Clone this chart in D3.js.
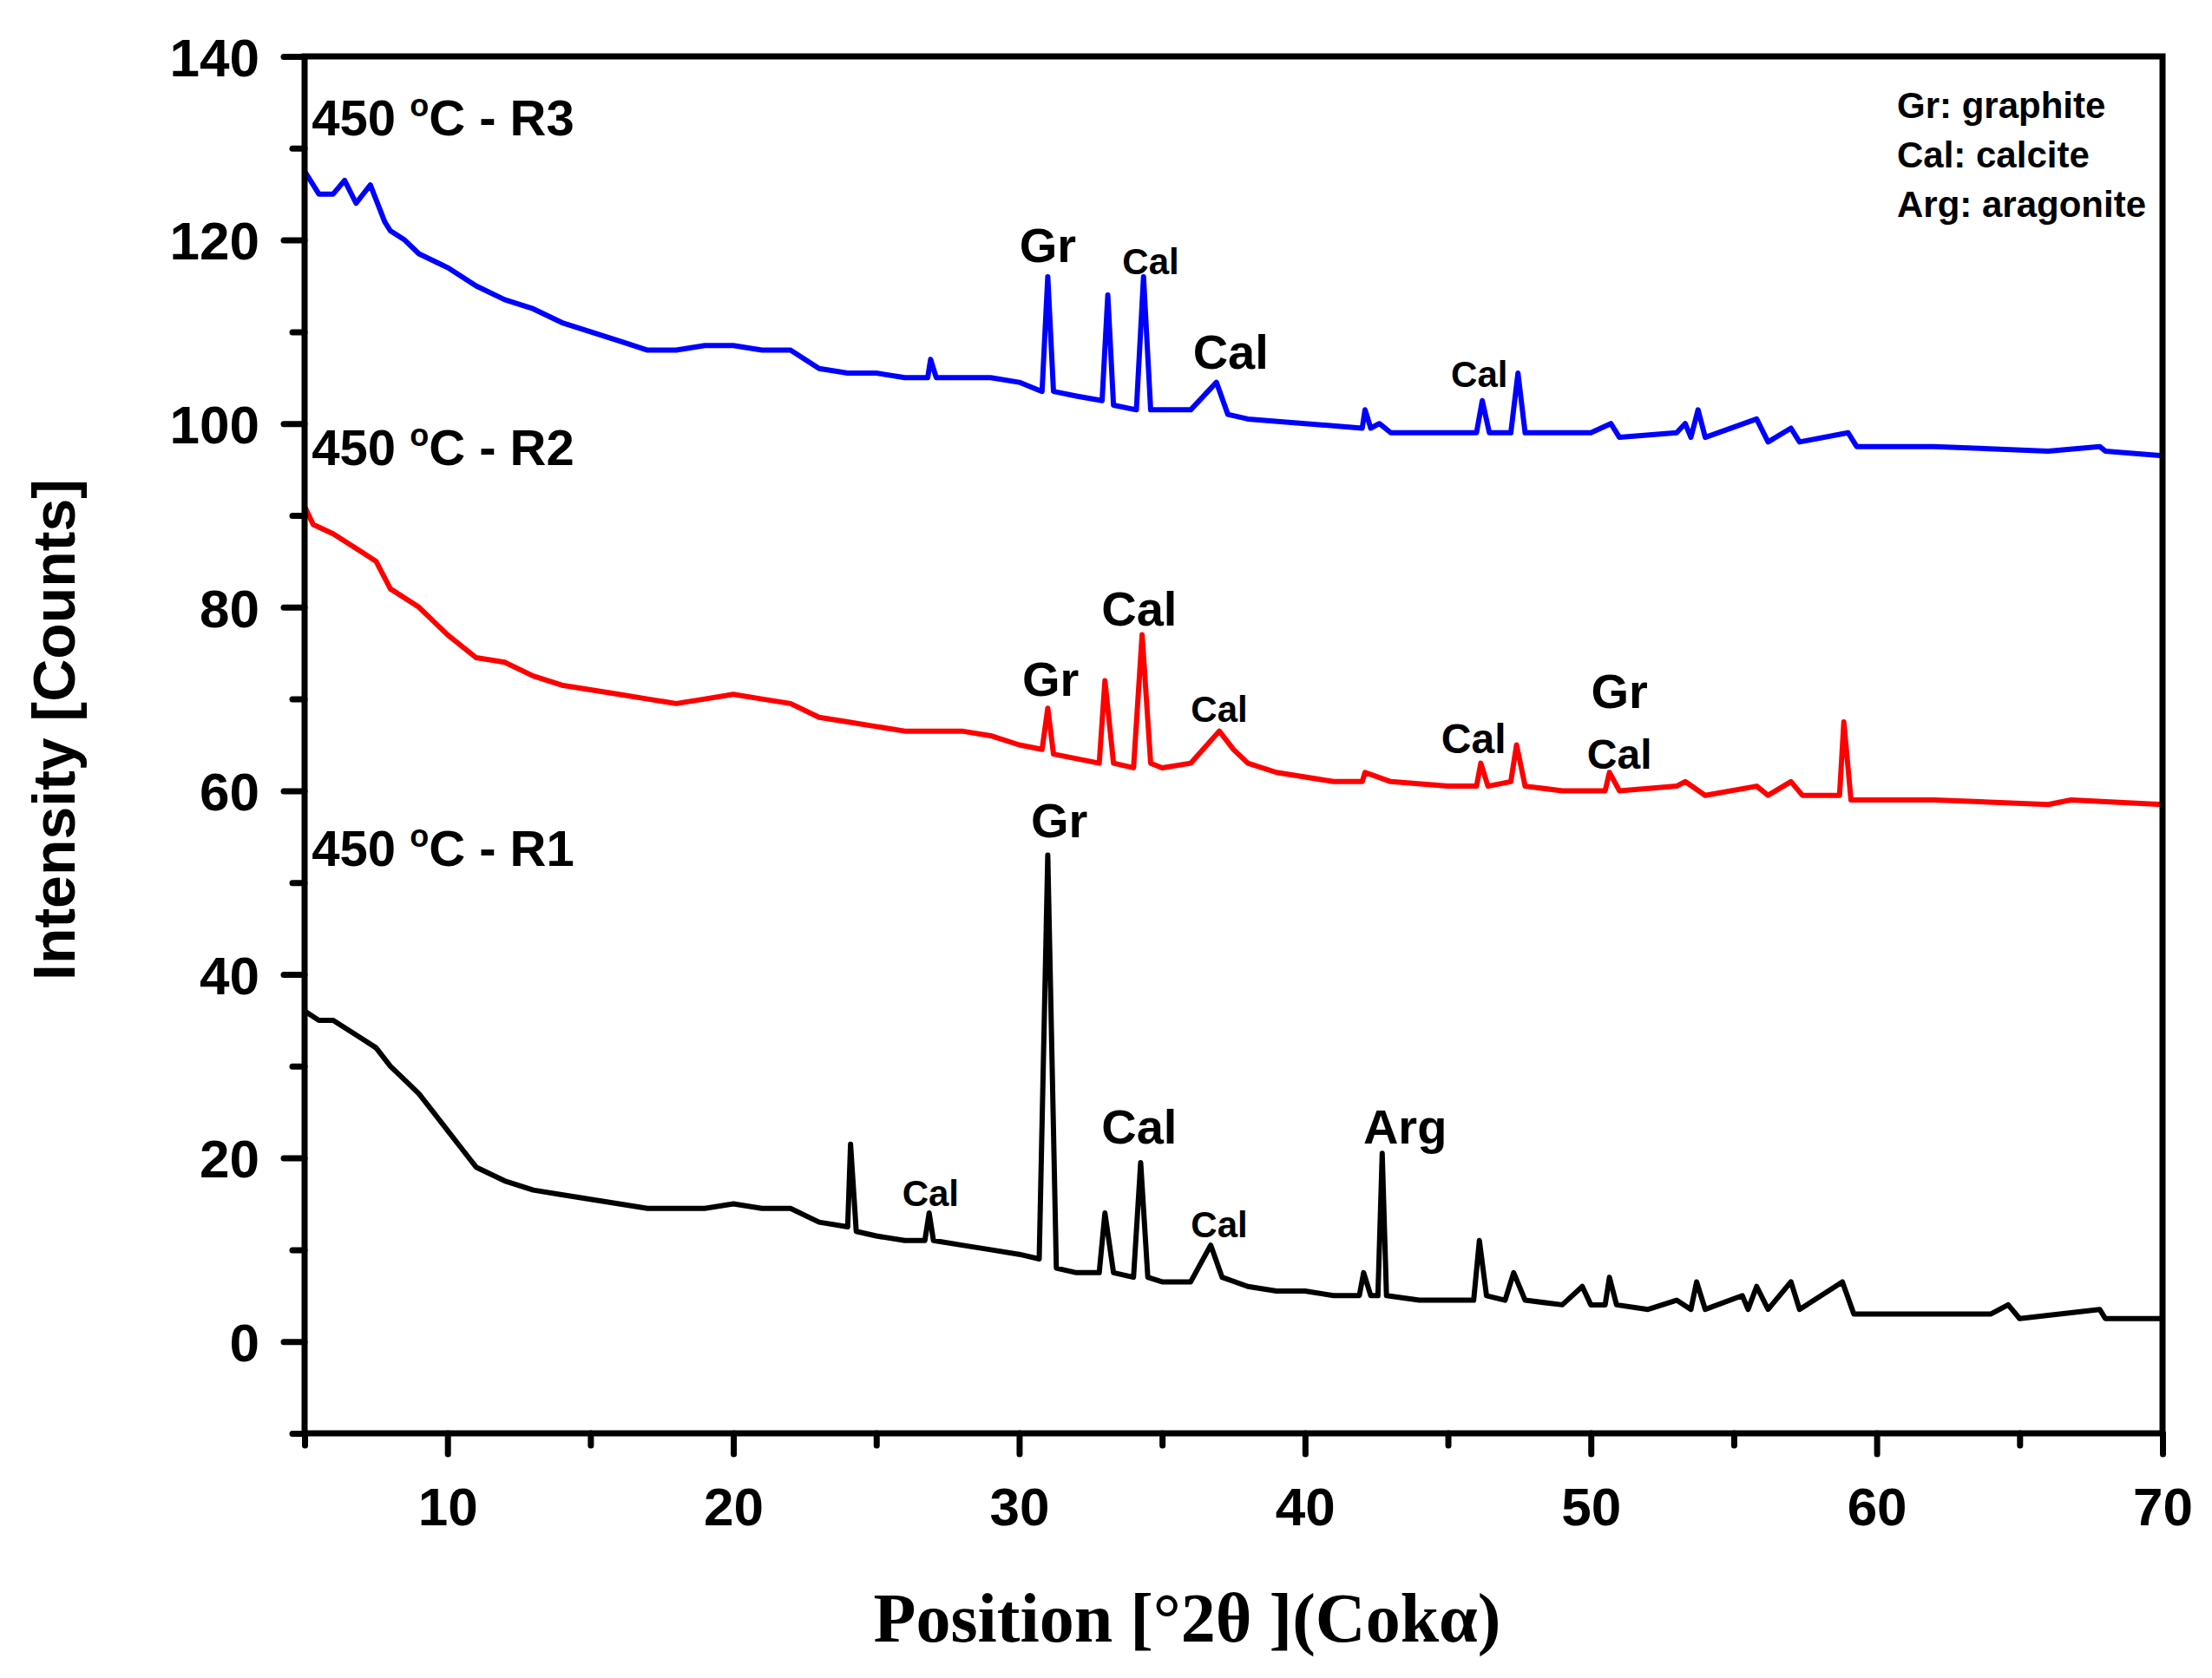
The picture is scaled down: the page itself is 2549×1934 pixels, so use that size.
<!DOCTYPE html>
<html><head><meta charset="utf-8">
<script src="https://cdn.jsdelivr.net/npm/d3@7"></script>
<style>body{margin:0;background:#fff}</style></head>
<body><svg id="c" width="2549" height="1934"></svg>
<script>
const r1 = [[5,36],[5.5,35],[6,35],[6.5,34],[7,33],[7.5,32],[8,30],[8.5,28.5],[9,27],[9.5,25],[10,23],[10.5,21],[11,19],[12,17.5],[13,16.5],[14,16],[15,15.5],[16,15],[17,14.5],[18,14.5],[19,14.5],[20,15],[21,14.5],[22,14.5],[23,13],[24,12.5],[24.1,21.5],[24.3,12],[25,11.5],[26,11],[26.7,11],[26.85,14],[27,11],[28,10.5],[29,10],[30,9.5],[30.7,9],[31.0,53],[31.3,8],[32,7.5],[32.8,7.5],[33,14],[33.3,7.5],[34,7],[34.25,19.5],[34.5,7],[35,6.5],[36,6.5],[36.7,10.5],[37.1,7],[38,6],[39,5.5],[40,5.5],[41,5],[41.9,5],[42.05,7.5],[42.3,5],[42.55,5],[42.7,20.5],[42.85,5],[44,4.5],[45,4.5],[45.9,4.5],[46.1,11],[46.35,5],[47,4.5],[47.3,7.5],[47.7,4.5],[49,4],[49.7,6],[50,4],[50.5,4],[50.65,7],[50.9,4],[52,3.5],[53,4.5],[53.5,3.5],[53.7,6.5],[54,3.5],[55.3,5],[55.5,3.5],[55.8,6],[56.2,3.5],[57,6.5],[57.3,3.5],[58.8,6.5],[59.2,3],[61,3],[64,3],[64.6,4],[65,2.5],[67.8,3.5],[68,2.5],[70,2.5]];
const r2 = [[5,91],[5.3,89],[6,88],[6.5,87],[7,86],[7.5,85],[8,82],[9,80],[10,77],[11,74.5],[12,74],[13,72.5],[14,71.5],[15,71],[16,70.5],[17,70],[18,69.5],[19,70],[20,70.5],[21,70],[22,69.5],[23,68],[24,67.5],[25,67],[26,66.5],[27,66.5],[28,66.5],[29,66],[30,65],[30.8,64.5],[31,69],[31.2,64],[32,63.5],[32.8,63],[33,72],[33.3,63],[34,62.5],[34.3,77],[34.6,63],[35,62.5],[36,63],[37,66.5],[37.5,64.5],[38,63],[39,62],[40,61.5],[41,61],[42,61],[42.1,62],[43,61],[45,60.5],[46,60.5],[46.15,63],[46.4,60.5],[47.2,61],[47.4,65],[47.7,60.5],[49,60],[50.5,60],[50.65,62],[51,60],[53,60.5],[53.3,61],[54,59.5],[55.8,60.5],[56.2,59.5],[57,61],[57.4,59.5],[58.7,59.5],[58.85,67.5],[59.1,59],[62,59],[66,58.5],[66.8,59],[70,58.5]];
const r3 = [[5,127.5],[5.5,125],[6,125],[6.4,126.5],[6.8,124],[7.3,126],[7.8,122],[8,121],[8.5,120],[9,118.5],[10,117],[11,115],[12,113.5],[13,112.5],[14,111],[15,110],[16,109],[17,108],[18,108],[19,108.5],[20,108.5],[21,108],[22,108],[23,106],[24,105.5],[25,105.5],[26,105],[26.8,105],[26.9,107],[27.1,105],[28,105],[29,105],[30,104.5],[30.8,103.5],[31,116],[31.2,103.5],[32,103],[32.9,102.5],[33.1,114],[33.3,102],[34.1,101.5],[34.35,116],[34.6,101.5],[35,101.5],[36,101.5],[36.9,104.5],[37.3,101],[38,100.5],[40,100],[42,99.5],[42.1,101.5],[42.3,99.5],[42.6,100],[43,99],[46,99],[46.2,102.5],[46.45,99],[47.2,99],[47.45,105.5],[47.7,99],[50,99],[50.7,100],[51,98.5],[53,99],[53.3,100],[53.5,98.5],[53.75,101.5],[54,98.5],[55.8,100.5],[56.2,98],[57,99.5],[57.3,98],[59,99],[59.3,97.5],[62,97.5],[66,97],[67.8,97.5],[68,97],[70,96.5]];
const seriesColors = ["#000000","#ff0000","#0000ff"];
const xTicks = [10,20,30,40,50,60,70];
const yTicks = [0,20,40,60,80,100,120,140];
const sampleLabels = [["R3",5.25,131.4],["R2",5.25,95.5],["R1",5.25,51.8]];
const peakLabels = [["Gr",31.0,117.6,"big"],["Cal",34.6,116.3,"small"],["Cal",37.4,106,"big"],["Cal",46.1,104,"small"],
 ["Cal",34.2,78,"big"],["Gr",31.1,70.3,"big"],["Cal",37.0,67.5,"small"],["Cal",45.9,64.1,"mid"],["Gr",51.0,69,"big"],["Cal",51.0,62.4,"mid"],
 ["Gr",31.4,54.9,"big"],["Cal",26.9,14.8,"small"],["Cal",34.2,21.6,"big"],["Cal",37.0,11.4,"small"],["Arg",43.5,21.6,"big"]];
const legendLines = ["Gr: graphite","Cal: calcite","Arg: aragonite"];

const svg = d3.select("#c");
const L=351,R=2492,T=65,B=1652;
const x = d3.scaleLinear().domain([5,70]).range([L,R]);
const y = d3.scaleLinear().domain([-10,140]).range([B,T]);
const font = "'Liberation Sans',Arial,sans-serif";

const line = d3.line().x(d=>x(d[0])).y(d=>y(d[1]));
[r1,r2,r3].forEach((s,i)=>svg.append("path").attr("d",line(s)).attr("fill","none")
  .attr("stroke",seriesColors[i]).attr("stroke-width",6).attr("stroke-linejoin","round"));

svg.append("rect").attr("x",L).attr("y",T).attr("width",R-L).attr("height",B-T)
  .attr("fill","none").attr("stroke","#000").attr("stroke-width",7);

const xAx = svg.append("g").attr("transform",`translate(0,${B})`)
  .call(d3.axisBottom(x).tickValues(d3.range(5,71,5)).tickSize(24).tickFormat(d=>xTicks.includes(d)?d:""));
xAx.selectAll(".tick line").attr("y2",d=>d%10===0?24:14);
const yAx = svg.append("g").attr("transform",`translate(${L},0)`)
  .call(d3.axisLeft(y).tickValues(d3.range(-10,141,10)).tickSize(24).tickFormat(d=>yTicks.includes(d)?d:""));
yAx.selectAll(".tick line").attr("x2",d=>yTicks.includes(d)?-24:-14);
[xAx,yAx].forEach(a=>{a.select(".domain").remove();
  a.selectAll(".tick line").attr("stroke","#000").attr("stroke-width",7).attr("stroke-linecap","round");
  a.selectAll("text").attr("font-family",font).attr("font-weight","bold").attr("font-size",62).attr("fill","#000");});
xAx.selectAll("text").attr("dy",0).attr("y",106);
yAx.selectAll("text").attr("x",-52).attr("dy","0.36em");

svg.append("text").attr("x",1368).attr("y",1892).attr("text-anchor","middle")
  .attr("font-family","'Liberation Serif','Times New Roman',serif").attr("font-weight","bold").attr("font-size",80)
  .text("Position [°2θ ](Cokα)");
svg.append("text").attr("transform","translate(86,841) rotate(-90)").attr("text-anchor","middle")
  .attr("font-family",font).attr("font-weight","bold").attr("font-size",68)
  .text("Intensity [Counts]");

sampleLabels.forEach(s=>{
  const t = svg.append("text").attr("x",x(s[1])).attr("y",y(s[2])).attr("font-family",font)
    .attr("font-weight","bold").attr("font-size",58);
  t.append("tspan").text("450 ");
  t.append("tspan").attr("font-size",36).attr("dy",-22).text("o");
  t.append("tspan").attr("dy",22).text("C - "+s[0]);
});
const sizes={big:56,mid:48,small:42};
peakLabels.forEach(p=>svg.append("text").attr("x",x(p[1])).attr("y",y(p[2])).attr("text-anchor","middle")
  .attr("font-family",font).attr("font-weight","bold").attr("font-size",sizes[p[3]]).text(p[0]));
legendLines.forEach((l,i)=>svg.append("text").attr("x",2186).attr("y",136+i*57)
  .attr("font-family",font).attr("font-weight","bold").attr("font-size",42).text(l));
</script></body></html>
